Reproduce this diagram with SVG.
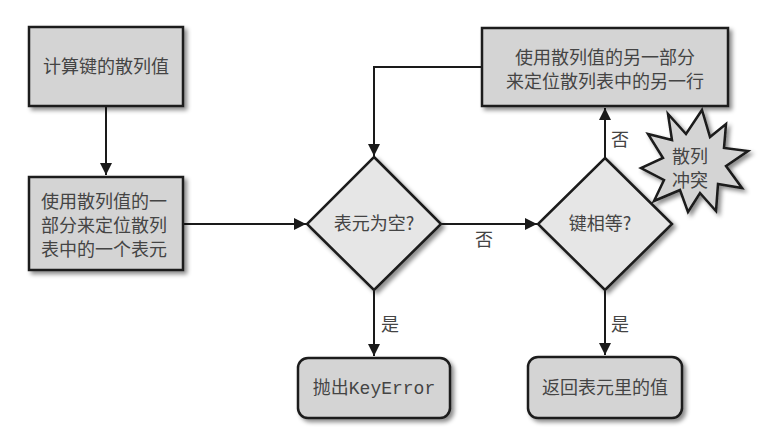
<svg xmlns="http://www.w3.org/2000/svg" width="759" height="437" viewBox="0 0 759 437">
<defs>
<style>
.box{fill:#d4d4d4;stroke:#1a1a1a;stroke-width:2.5;filter:url(#sh)}
.dia{fill:#e6e6e6;stroke:#1a1a1a;stroke-width:2.5;filter:url(#sh)}
.t{font-family:"Noto Sans CJK SC","Noto Sans",sans-serif;font-size:18px;fill:#444;text-anchor:middle}
.m{font-family:"Liberation Mono",monospace}
.c{fill:none;stroke:#1a1a1a;stroke-width:2}
</style>
<filter id="sh" x="-20%" y="-20%" width="140%" height="140%">
<feDropShadow dx="3" dy="3" stdDeviation="2" flood-color="#000" flood-opacity="0.45"/>
</filter>
<marker id="ah" viewBox="0 0 12 12" refX="12" refY="6" markerWidth="12" markerHeight="12" markerUnits="userSpaceOnUse" orient="auto">
<path d="M0,0 L12,6 L0,12 Z" fill="#1a1a1a"/>
</marker>
</defs>
<rect width="759" height="437" fill="#fff"/>
<g id="connectors">
<path class="c" d="M106,106 V175" marker-end="url(#ah)"/>
<path class="c" d="M183,224 H306" marker-end="url(#ah)"/>
<path class="c" d="M441,224 H537" marker-end="url(#ah)"/>
<path class="c" d="M374,290 V356" marker-end="url(#ah)"/>
<path class="c" d="M605,290 V355" marker-end="url(#ah)"/>
<path class="c" d="M605,158 V108" marker-end="url(#ah)"/>
<path class="c" d="M482,67 H374 V156" marker-end="url(#ah)"/>
<text class="t" x="484" y="246">否</text>
<text class="t" x="390" y="331">是</text>
<text class="t" x="620" y="331">是</text>
<text class="t" x="620" y="146">否</text>
</g>
<g id="n1">
<rect class="box" x="29" y="27" width="154" height="79"/>
<text class="t" x="106" y="73">计算键的散列值</text>
</g>
<g id="n2">
<rect class="box" x="29" y="177" width="154" height="93"/>
<text class="t" x="104" y="208">使用散列值的一</text>
<text class="t" x="104" y="232">部分来定位散列</text>
<text class="t" x="104" y="256">表中的一个表元</text>
</g>
<g id="d1">
<polygon class="dia" points="374,157 441,224 374,290 307,224"/>
<text class="t" x="374" y="230">表元为空?</text>
</g>
<g id="d2">
<polygon class="dia" points="605,158 672,224 605,290 538,224"/>
<text class="t" x="600" y="230">键相等?</text>
</g>
<g id="n3">
<rect class="box" x="482" y="28" width="246" height="78"/>
<text class="t" x="605" y="64">使用散列值的另一部分</text>
<text class="t" x="605" y="88">来定位散列表中的另一行</text>
</g>
<g id="n4">
<rect class="box" x="298" y="358" width="152" height="60" rx="10"/>
<text class="t" x="374" y="394">抛出<tspan class="m">KeyError</tspan></text>
</g>
<g id="n5">
<rect class="box" x="528" y="357" width="154" height="61" rx="10"/>
<text class="t" x="605" y="394">返回表元里的值</text>
</g>
<g id="star">
<polygon class="box" points="702,110 710,137 726,124 724,148 748,151 726,166 742,188 718,184 716,211 700,193 688,212 680,190 654,201 664,180 641,168 663,158 648,134 672,140 668,114 686,134"/>
<text class="t" x="690" y="163">散列</text>
<text class="t" x="690" y="187">冲突</text>
</g>
</svg>
